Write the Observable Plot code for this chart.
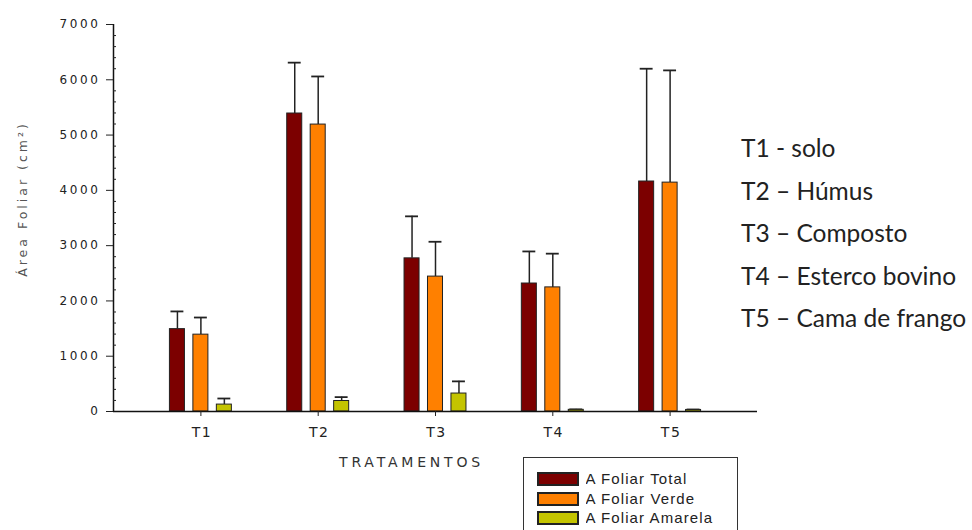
<!DOCTYPE html>
<html>
<head>
<meta charset="utf-8">
<script src="https://cdn.jsdelivr.net/npm/d3@7"></script>
<script src="https://cdn.jsdelivr.net/npm/@observablehq/plot@0.6"></script>
<style>
  body { margin: 0; background: #fff; }
  #wrap { position: relative; width: 972px; height: 530px; overflow: hidden; }
  #tlist { position: absolute; left: 741px; top: 127px; font-family: Lato, "Open Sans", sans-serif; font-size: 24.5px; line-height: 42.5px; color: #222; white-space: nowrap; }
  #legendbox { position: absolute; left: 523px; top: 457px; width: 215px; height: 90px; border: 1.5px solid #333; background: #fff; padding: 12px 0 0 14px; box-sizing: border-box; }
  #legendbox svg { overflow: visible; }
  #legendbox svg rect { stroke: #222; stroke-width: 2; }
  #legendbox div, #legendbox span { line-height: 18.5px; }
  g[aria-description="ytick-labels"] text { font-family: "DejaVu Sans", sans-serif; font-size: 12px; letter-spacing: 2.6px; fill: #222; }
  g[aria-description="xtick-labels"] text { font-family: "DejaVu Sans", sans-serif; font-size: 14px; letter-spacing: 1.5px; fill: #222; }
  g[aria-description="xtitle"] text { font-family: "DejaVu Sans", sans-serif; font-size: 14px; letter-spacing: 3.8px; fill: #333; }
  g[aria-description="ytitle"] text { font-family: "DejaVu Sans", sans-serif; font-size: 12.5px; letter-spacing: 3px; fill: #555; }
</style>
</head>
<body>
<div id="wrap"></div>
<script>
const treatments = ["T1", "T2", "T3", "T4", "T5"];
const series = ["A Foliar Total", "A Foliar Verde", "A Foliar Amarela"];
const totalValues = [1490, 5390, 2770, 2315, 4160];
const totalErrors = [320, 920, 760, 580, 2040];
const verdeValues = [1390, 5190, 2440, 2245, 4140];
const verdeErrors = [310, 870, 630, 610, 2030];
const amarelaValues = [125, 190, 325, 30, 28];
const amarelaErrors = [110, 70, 220, 8, 8];
const yTicks = [0, 1000, 2000, 3000, 4000, 5000, 6000, 7000];
const treatmentNames = ["T1 - solo", "T2 – Húmus", "T3 – Composto", "T4 – Esterco bovino", "T5 – Cama de frango"];
const colors = ["#7c0000", "#ff8000", "#c4c400"];

const seriesValues = [totalValues, verdeValues, amarelaValues];
const seriesErrors = [totalErrors, verdeErrors, amarelaErrors];
const rows = [];
treatments.forEach((t, i) => {
  series.forEach((s, j) => {
    rows.push({t, s, i: i + 1, j, v: seriesValues[j][i], e: seriesErrors[j][i]});
  });
});

const groupGap = 0.2;   // offset between bars inside a group (x units)
const halfBar = 0.064;  // half bar width (x units)
const halfCap = 0.055;  // half error-cap width
const pos = d => d.i + (d.j - 1) * groupGap;
const xDomain = [0.255, 5.745];

const font = "'Liberation Sans', Arial, sans-serif";

const chart = Plot.plot({
  width: 972,
  height: 530,
  marginLeft: 113,
  marginRight: 215,
  marginTop: 24,
  marginBottom: 119,
  style: {fontFamily: font, fontSize: "12px", color: "#222", background: "#fff"},
  x: {domain: xDomain, axis: null},
  y: {domain: [0, 7000], axis: null},
  color: {domain: series, range: colors},
  marks: [
    Plot.ruleX(rows, {x: pos, y1: d => d.v, y2: d => d.v + d.e, stroke: "#222", strokeWidth: 1.5}),
    Plot.ruleY(rows, {y: d => d.v + d.e, x1: d => pos(d) - halfCap, x2: d => pos(d) + halfCap, stroke: "#222", strokeWidth: 1.8}),
    Plot.rectY(rows, {x1: d => pos(d) - halfBar, x2: d => pos(d) + halfBar, y1: 0, y2: "v", fill: "s", stroke: "#222", strokeWidth: 1}),
    Plot.ruleY([0], {stroke: "#111", strokeWidth: 1.5}),
    Plot.ruleX([xDomain[0]], {stroke: "#111", strokeWidth: 1.5}),
    Plot.axisY({ticks: yTicks, tickSize: 7, tickPadding: 4, tickFormat: () => "", label: null}),
    Plot.text(yTicks, {y: d => d, frameAnchor: "left", dx: -13, textAnchor: "end", text: d3.format("d"), fontSize: 12, ariaDescription: "ytick-labels"}),
    Plot.axisY({ticks: d3.range(0, 7001, 200).filter(v => v % 1000 !== 0), tickSize: 3, dx: 3, tickFormat: () => "", label: null}),
    Plot.axisX({ticks: [1, 2, 3, 4, 5], tickSize: 5, tickFormat: () => "", label: null}),
    Plot.text([1, 2, 3, 4, 5], {x: d => d, frameAnchor: "bottom", dx: 1, dy: 25, text: i => treatments[i - 1], fontSize: 14, ariaDescription: "xtick-labels"}),
    Plot.text(["TRATAMENTOS"], {frameAnchor: "bottom", dx: -24, dy: 55, fontSize: 14, ariaDescription: "xtitle"}),
    Plot.text(["Área Foliar (cm²)"], {frameAnchor: "left", textAnchor: "middle", dx: -91, dy: -19, rotate: -90, fontSize: 12.5, ariaDescription: "ytitle"})
  ]
});

const wrap = document.getElementById("wrap");
wrap.appendChild(chart);

const tlist = document.createElement("div");
tlist.id = "tlist";
treatmentNames.forEach(n => { const d = document.createElement("div"); d.textContent = n; tlist.appendChild(d); });
wrap.appendChild(tlist);

const box = document.createElement("div");
box.id = "legendbox";
const leg = Plot.legend({
  color: {domain: series, range: colors},
  legend: "swatches",
  columns: 1,
  swatchWidth: 40,
  swatchHeight: 12,
  style: {fontFamily: font, fontSize: "15px", color: "#222", letterSpacing: "1.1px"}
});
box.appendChild(leg);
wrap.appendChild(box);
</script>
</body>
</html>
